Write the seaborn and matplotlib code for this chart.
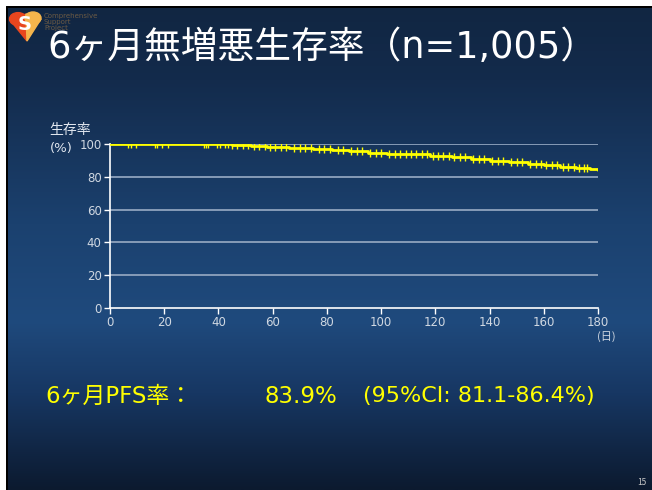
import numpy as np
import pandas as pd
import matplotlib
matplotlib.use("Agg")
import matplotlib.pyplot as plt
from matplotlib.patches import Rectangle, Circle, Polygon
from matplotlib.colors import LinearSegmentedColormap
import seaborn as sns

# ---- data ----
step_days = [0, 38, 45, 52, 58, 66, 75, 82, 88, 95, 102, 110, 118, 126, 133, 140, 147, 154, 160, 166, 172, 177, 180]
step_surv = [100, 99.7, 99.2, 98.7, 98.2, 97.7, 97.0, 96.3, 95.5, 94.8, 94.2, 93.6, 92.9, 92.0, 91.0, 89.9, 89.0, 87.8, 87.0, 86.2, 85.4, 84.5, 83.9]
censor_days = [6.6, 7.6, 9.5, 16.6, 17.3, 19.2, 21.4, 34.7, 35.5, 36.2, 39.5, 40.6, 42.4, 43.5, 45, 47, 49, 51, 53, 55,
               57, 59, 61, 63, 65, 68, 70, 72, 74, 77, 79, 81, 84, 86, 89, 91, 93, 96, 98, 100, 103, 105, 107, 109, 111,
               113, 115, 117, 119, 121, 123, 125, 127, 129, 131, 134, 136, 138, 141, 143, 145, 148, 150, 152, 155, 157,
               159, 161, 163, 165, 167, 169, 171, 173, 175, 176]
x_ticks = [0, 20, 40, 60, 80, 100, 120, 140, 160, 180]
y_ticks = [0, 20, 40, 60, 80, 100]
title = "6ヶ月無増悪生存率（n=1,005）"
ylabel_top = "生存率"
ylabel_unit = "(%)"
xunit = "(日)"
pfs_label = "6ヶ月PFS率："
pfs_value = "83.9%"
pfs_ci = "(95%CI: 81.1-86.4%)"
page_no = "15"

sns.set_theme(style="white")
plt.rcParams['font.family'] = ['Noto Sans CJK JP', 'DejaVu Sans']
WIDE = ['DejaVu Sans', 'Noto Sans CJK JP']

W, H = 652, 490
fig = plt.figure(figsize=(W / 100, H / 100), dpi=100, facecolor="white")

# slide background: black frame + gradient
frame = fig.add_axes([6 / W, 0, 1 - 6 / W, (H - 6) / H])
frame.set_axis_off()
frame.add_patch(Rectangle((0, 0), 1, 1, color="black", transform=frame.transAxes))
bg = fig.add_axes([8 / W, 0, 1 - 8 / W, (H - 8) / H])
bg.set_axis_off()
cmap = LinearSegmentedColormap.from_list("slide", [
    (0.0, "#112642"), (0.15, "#132b4c"), (0.45, "#1b416f"), (0.65, "#1f4a7d"),
    (0.80, "#173763"), (1.0, "#0c1a2f")])
grad = np.linspace(0, 1, 256).reshape(-1, 1)
bg.imshow(grad, aspect="auto", cmap=cmap, extent=[0, 1, 0, 1], origin="upper")
bg.set_xlim(0, 1)
bg.set_ylim(0, 1)

fx = lambda px: px / W
fy = lambda py: 1 - py / H

# logo (approximation)
fig.patches.append(Polygon([[fx(10), fy(20)], [fx(26), fy(14)], [fx(27), fy(41)]], closed=True,
                           transform=fig.transFigure, color="#e8461e"))
fig.patches.append(Circle((fx(18), fy(19)), 8.5 / W, transform=fig.transFigure, color="#e8461e"))
fig.patches.append(Circle((fx(33), fy(18)), 8 / W, transform=fig.transFigure, color="#f5b54c"))
fig.patches.append(Polygon([[fx(26), fy(14)], [fx(41), fy(19)], [fx(27), fy(41)]], closed=True,
                           transform=fig.transFigure, color="#f5b54c"))
fig.text(fx(25), fy(25), "S", color="white", fontsize=14, fontweight="bold", ha="center", va="center",
         family=["DejaVu Sans"])
fig.text(fx(44), fy(22), "Comprehensive\nSupport\nProject", color="#6b5a44", fontsize=5,
         ha="left", va="center", linespacing=1.0, family=["DejaVu Sans"])

# title
fig.text(fx(322), fy(48), title, color="white", fontsize=26.5, ha="center", va="center", family=WIDE)

# plot
ax = fig.add_axes([110 / W, 1 - 308 / H, 488 / W, 164 / H])
ax.set_facecolor("none")
df = pd.DataFrame({"day": step_days, "surv": step_surv})
for y in y_ticks[1:]:
    ax.axhline(y, color="#8fa3bd", lw=1.3, zorder=1)
sns.lineplot(data=df, x="day", y="surv", drawstyle="steps-post", color="#ffff00", lw=2, ax=ax, zorder=3)
idx = np.searchsorted(step_days, censor_days, side="right") - 1
cdf = pd.DataFrame({"day": censor_days, "surv": np.array(step_surv)[idx]})
sns.scatterplot(data=cdf, x="day", y="surv", marker="|", s=35, color="#ffff00", linewidth=1, ax=ax, zorder=4)
ax.set_xlim(0, 180)
ax.set_ylim(0, 100)
ax.set_xticks(x_ticks)
ax.set_yticks(y_ticks)
ax.set_xlabel("")
ax.set_ylabel("")
for s in ["top", "right"]:
    ax.spines[s].set_visible(False)
for s in ["left", "bottom"]:
    ax.spines[s].set_color("white")
    ax.spines[s].set_linewidth(1.2)
ax.tick_params(axis="both", colors="white", labelcolor="#d0d8e2", labelsize=8.5, length=4, width=1,
               direction="out", bottom=True, left=True, pad=2)
for lab in ax.get_xticklabels() + ax.get_yticklabels():
    lab.set_family(["DejaVu Sans"])

fig.text(fx(49), fy(130), ylabel_top, color="#e0e6ee", fontsize=10, ha="left", va="center")
fig.text(fx(50), fy(148), ylabel_unit, color="#e0e6ee", fontsize=9.5, ha="left", va="center",
         family=["DejaVu Sans"])
fig.text(fx(606), fy(337), xunit, color="#d0d8e2", fontsize=8, ha="center", va="center")

# PFS text
fig.text(fx(45), fy(396), pfs_label, color="#ffff00", fontsize=16.5, ha="left", va="center", family=WIDE)
fig.text(fx(264), fy(396), pfs_value, color="#ffff00", fontsize=16.5, ha="left", va="center", family=WIDE)
fig.text(fx(363), fy(396), pfs_ci, color="#ffff00", fontsize=16, ha="left", va="center", family=WIDE)

fig.text(fx(646), fy(482), page_no, color="#c8c8c8", fontsize=6, ha="right", va="center")

fig.savefig("out.png", dpi=100, facecolor="white")
